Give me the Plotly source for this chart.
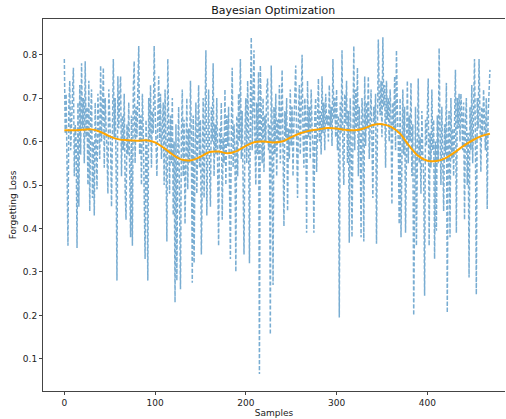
import plotly.graph_objects as go

# Blue noisy loss samples (index = sample number)
loss_values = [
    0.79, 0.62, 0.71, 0.55, 0.36, 0.68, 0.74, 0.58, 0.66, 0.70,
    0.77, 0.52, 0.64, 0.60, 0.355, 0.69, 0.45, 0.73, 0.57, 0.78,
    0.63, 0.70, 0.55, 0.785, 0.61, 0.68, 0.50, 0.74, 0.44, 0.66,
    0.72, 0.47, 0.60, 0.43, 0.69, 0.58, 0.49, 0.71, 0.62, 0.56,
    0.775, 0.60, 0.67, 0.77, 0.54, 0.70, 0.63, 0.58, 0.48, 0.72,
    0.66, 0.59, 0.45, 0.68, 0.79, 0.61, 0.70, 0.55, 0.28, 0.75,
    0.63, 0.70, 0.75, 0.52, 0.66, 0.58, 0.71, 0.49, 0.42, 0.64,
    0.57, 0.69, 0.53, 0.38, 0.66, 0.36, 0.72, 0.785, 0.55, 0.68,
    0.61, 0.74, 0.82, 0.57, 0.66, 0.50, 0.71, 0.62, 0.45, 0.33,
    0.65, 0.58, 0.28, 0.70, 0.60, 0.73, 0.54, 0.67, 0.62, 0.82,
    0.68, 0.59, 0.52, 0.66, 0.75, 0.60, 0.71, 0.56, 0.64, 0.69,
    0.50, 0.72, 0.58, 0.37, 0.79, 0.62, 0.48, 0.66, 0.55, 0.70,
    0.43, 0.60, 0.23, 0.64, 0.28, 0.57, 0.68, 0.45, 0.26, 0.61,
    0.72, 0.52, 0.65, 0.41, 0.58, 0.70, 0.49, 0.63, 0.55, 0.74,
    0.60, 0.275, 0.66, 0.32, 0.57, 0.69, 0.48, 0.62, 0.73, 0.54,
    0.65, 0.34, 0.59, 0.70, 0.47, 0.66, 0.81, 0.43, 0.61, 0.72,
    0.55, 0.45, 0.68, 0.60, 0.78, 0.52, 0.64, 0.57, 0.70, 0.49,
    0.36, 0.63, 0.58, 0.69, 0.42, 0.61, 0.55, 0.72, 0.50, 0.66,
    0.59, 0.68, 0.47, 0.33, 0.62, 0.77, 0.54, 0.64, 0.57, 0.30,
    0.66, 0.52, 0.71, 0.60, 0.79, 0.56, 0.67, 0.48, 0.34, 0.62,
    0.70, 0.55, 0.74, 0.63, 0.32, 0.68, 0.84, 0.58, 0.72, 0.81,
    0.61, 0.50, 0.69, 0.57, 0.76, 0.065, 0.775, 0.62, 0.55, 0.70,
    0.53, 0.66, 0.60, 0.72, 0.745, 0.58, 0.64, 0.156, 0.775, 0.63,
    0.27, 0.68, 0.57, 0.71, 0.52, 0.65, 0.60, 0.73, 0.55, 0.66,
    0.765, 0.58, 0.405, 0.67, 0.61, 0.70, 0.44, 0.63, 0.56, 0.72,
    0.59, 0.68, 0.52, 0.64, 0.71, 0.775, 0.60, 0.47, 0.66, 0.73,
    0.57, 0.69, 0.80, 0.62, 0.54, 0.70, 0.65, 0.39, 0.74, 0.61,
    0.68, 0.56, 0.72, 0.63, 0.59, 0.39, 0.66, 0.70, 0.53, 0.64,
    0.745, 0.60, 0.67, 0.57, 0.75, 0.62, 0.69, 0.58, 0.71, 0.64,
    0.66, 0.60, 0.73, 0.63, 0.68, 0.59, 0.79, 0.65, 0.70, 0.61,
    0.72, 0.58, 0.66, 0.195, 0.69, 0.62, 0.81, 0.57, 0.50, 0.71,
    0.64, 0.74, 0.55, 0.67, 0.367, 0.70, 0.60, 0.38, 0.66, 0.82,
    0.58, 0.72, 0.63, 0.77, 0.52, 0.68, 0.61, 0.38, 0.70, 0.65,
    0.37, 0.75, 0.59, 0.69, 0.63, 0.75, 0.56, 0.66, 0.72, 0.60,
    0.47, 0.68, 0.64, 0.71, 0.365, 0.62, 0.835, 0.70, 0.66, 0.74,
    0.61, 0.84, 0.68, 0.73, 0.54, 0.74, 0.65, 0.70, 0.60, 0.72,
    0.66, 0.455, 0.69, 0.63, 0.75, 0.58, 0.81, 0.67, 0.60, 0.41,
    0.70, 0.38, 0.64, 0.72, 0.57, 0.68, 0.39, 0.62, 0.74, 0.55,
    0.66, 0.60, 0.735, 0.52, 0.64, 0.20, 0.58, 0.68, 0.36, 0.63,
    0.745, 0.55, 0.61, 0.48, 0.67, 0.57, 0.52, 0.245, 0.65, 0.59,
    0.70, 0.745, 0.36, 0.62, 0.54, 0.72, 0.58, 0.65, 0.33, 0.60,
    0.395, 0.66, 0.55, 0.815, 0.63, 0.50, 0.68, 0.59, 0.44, 0.64,
    0.57, 0.735, 0.206, 0.61, 0.67, 0.38, 0.70, 0.56, 0.63, 0.52,
    0.68, 0.765, 0.39, 0.70, 0.63, 0.71, 0.60, 0.71, 0.66, 0.58,
    0.69, 0.42, 0.64, 0.70, 0.50, 0.62, 0.287, 0.68, 0.58, 0.73,
    0.55, 0.66, 0.79, 0.60, 0.248, 0.70, 0.63, 0.79, 0.57, 0.53,
    0.68, 0.61, 0.72, 0.64, 0.58, 0.70, 0.445, 0.66, 0.74, 0.765,
]
samples = list(range(len(loss_values)))

# Orange smoothed trend (read at regular sample positions)
trend_samples = [0, 10, 20, 30, 40, 50, 60, 70, 80, 90, 100, 110, 120, 130, 140,
                 150, 160, 170, 180, 190, 200, 210, 220, 230, 240, 250, 260, 270,
                 280, 290, 300, 310, 320, 330, 340, 350, 360, 370, 380, 390, 400,
                 410, 420, 430, 440, 450, 460, 469]
trend_values = [0.626, 0.626, 0.627, 0.628, 0.622, 0.612, 0.605, 0.603, 0.602, 0.603,
                0.598, 0.585, 0.569, 0.558, 0.557, 0.565, 0.576, 0.577, 0.573, 0.578,
                0.590, 0.599, 0.600, 0.598, 0.600, 0.610, 0.619, 0.625, 0.628, 0.631,
                0.630, 0.627, 0.626, 0.630, 0.638, 0.640, 0.634, 0.618, 0.590, 0.567,
                0.556, 0.555, 0.562, 0.575, 0.590, 0.603, 0.613, 0.618]

x_ticks = [0, 100, 200, 300, 400]
y_ticks = [0.1, 0.2, 0.3, 0.4, 0.5, 0.6, 0.7, 0.8]

fig = go.Figure()
fig.add_trace(go.Scatter(
    x=samples, y=loss_values, mode="lines",
    line=dict(color="rgba(31,119,180,0.6)", width=1.5, dash="4px,2px"),
    showlegend=False, hoverinfo="skip"))
fig.add_trace(go.Scatter(
    x=trend_samples, y=trend_values, mode="lines",
    line=dict(color="#FFA500", width=2, shape="spline", smoothing=1.0),
    showlegend=False, hoverinfo="skip"))

font_family = "DejaVu Sans, sans-serif"
fig.update_layout(
    width=506, height=419,
    margin=dict(l=43, r=1, t=19, b=28),
    paper_bgcolor="white", plot_bgcolor="white",
    font=dict(family=font_family, size=9, color="#222"),
    title=dict(text="Bayesian Optimization", x=0.54, xanchor="center",
               y=0.976, yanchor="middle", font=dict(size=11, color="#111")),
)
fig.update_xaxes(
    range=[-23.5, 485.6], tickvals=x_ticks, ticktext=[str(v) for v in x_ticks],
    showgrid=False, zeroline=False, showline=True, linecolor="#444", linewidth=1,
    mirror=True, ticks="outside", ticklen=3, tickcolor="#444", automargin=False,
    title=dict(text="Samples", font=dict(size=9), standoff=2),
)
fig.update_yaxes(
    range=[0.026, 0.882], tickvals=y_ticks, ticktext=[f"{v:.1f}" for v in y_ticks],
    showgrid=False, zeroline=False, showline=True, linecolor="#444", linewidth=1,
    mirror=False, ticks="outside", ticklen=3, tickcolor="#444", automargin=False,
    title=dict(text="Forgetting Loss", font=dict(size=9), standoff=4),
)

fig.write_html(
    "out.html",
    config={"displayModeBar": False},
    post_script="document.body.style.margin='0';document.body.style.overflow='hidden';",
)
